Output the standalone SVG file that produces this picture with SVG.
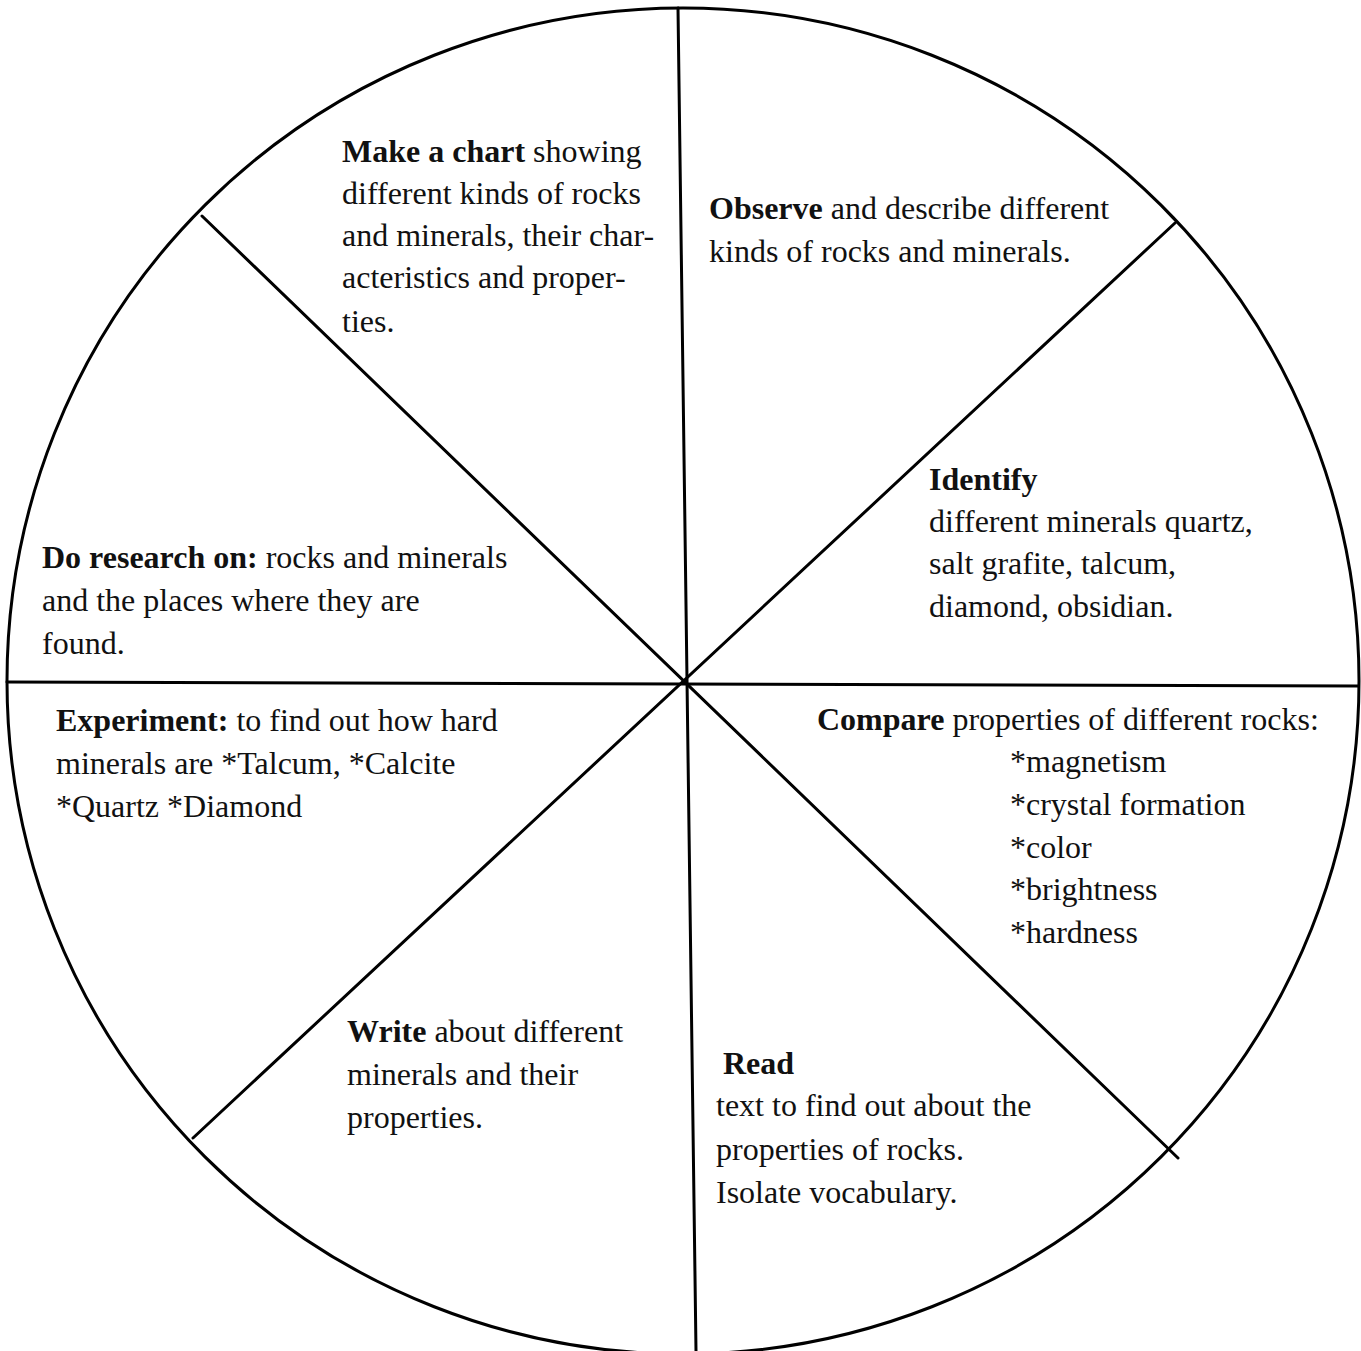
<svg xmlns="http://www.w3.org/2000/svg" width="1361" height="1351" viewBox="0 0 1361 1351">
<style>
.t{font-family:"Liberation Serif","Times New Roman",serif;font-size:32px;fill:#111}
.b{font-weight:bold}
.ln{stroke:#000;stroke-width:3;fill:none;stroke-linecap:round}
</style>
<rect width="1361" height="1351" fill="#fff"/>
<g id="wheel">
<ellipse class="ln" cx="683" cy="681" rx="676" ry="673"/>
</g>
<g id="connectors">
<line class="ln" x1="678" y1="8" x2="696" y2="1351"/>
<line class="ln" x1="7" y1="682" x2="1358" y2="686"/>
<line class="ln" x1="202" y1="216" x2="1178" y2="1158"/>
<line class="ln" x1="1175" y1="223" x2="193" y2="1138"/>
</g>
<g id="make-chart" class="t">
<text x="342" y="162"><tspan class="b">Make a chart</tspan> showing</text>
<text x="342" y="204">different kinds of rocks</text>
<text x="342" y="246">and minerals, their char-</text>
<text x="342" y="288">acteristics and proper-</text>
<text x="342" y="332">ties.</text>
</g>
<g id="observe" class="t">
<text x="709" y="219"><tspan class="b">Observe</tspan> and describe different</text>
<text x="709" y="262">kinds of rocks and minerals.</text>
</g>
<g id="identify" class="t">
<text x="929" y="490" class="b">Identify</text>
<text x="929" y="532">different minerals quartz,</text>
<text x="929" y="574">salt grafite, talcum,</text>
<text x="929" y="617">diamond, obsidian.</text>
</g>
<g id="research" class="t">
<text x="42" y="568"><tspan class="b">Do research on:</tspan> rocks and minerals</text>
<text x="42" y="611">and the places where they are</text>
<text x="42" y="654">found.</text>
</g>
<g id="experiment" class="t">
<text x="56" y="731"><tspan class="b">Experiment:</tspan> to find out how hard</text>
<text x="56" y="774">minerals are *Talcum, *Calcite</text>
<text x="56" y="817">*Quartz *Diamond</text>
</g>
<g id="compare" class="t">
<text x="817" y="730"><tspan class="b">Compare</tspan> properties of different rocks:</text>
<text x="1010" y="772">*magnetism</text>
<text x="1010" y="815">*crystal formation</text>
<text x="1010" y="858">*color</text>
<text x="1010" y="900">*brightness</text>
<text x="1010" y="943">*hardness</text>
</g>
<g id="write" class="t">
<text x="347" y="1042"><tspan class="b">Write</tspan> about different</text>
<text x="347" y="1085">minerals and their</text>
<text x="347" y="1128">properties.</text>
</g>
<g id="read" class="t">
<text x="723" y="1074" class="b">Read</text>
<text x="716" y="1116">text to find out about the</text>
<text x="716" y="1160">properties of rocks.</text>
<text x="716" y="1203">Isolate vocabulary.</text>
</g>
</svg>
